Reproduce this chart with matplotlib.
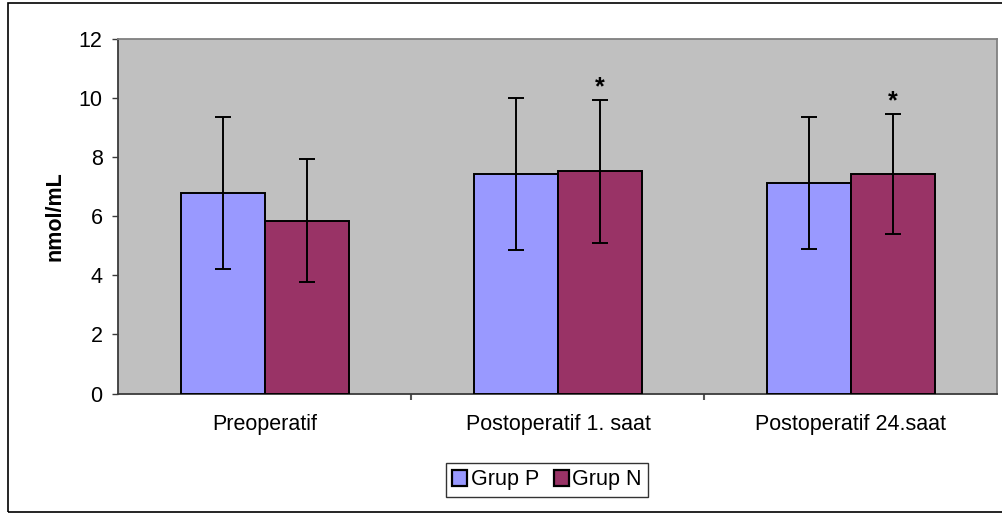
import matplotlib
matplotlib.use("Agg")
import matplotlib.pyplot as plt
import matplotlib.patches as mpatches
import numpy as np

plt.rcParams["font.family"] = ["Liberation Sans", "DejaVu Sans"]

# ── Data ──────────────────────────────────────────────────────────────────────
categories = ["Preoperatif", "Postoperatif 1. saat", "Postoperatif 24.saat"]
grup_p_mean = [6.78, 7.42, 7.12]
grup_p_sd = [2.57, 2.57, 2.24]
grup_n_mean = [5.85, 7.53, 7.44]
grup_n_sd = [2.08, 2.42, 2.03]
grup_n_sig = [False, True, True]   # asterisk above Grup N
series_names = ["Grup P", "Grup N"]
y_ticks = [0, 2, 4, 6, 8, 10, 12]

# ── Style ─────────────────────────────────────────────────────────────────────
_P_COLOR = "#9999FF"
_N_COLOR = "#993366"
_PLOT_BG = "#C0C0C0"
_AXIS = "#3a3a3a"
_FS = 15.5

W, H, DPI = 1003, 514, 100
fig = plt.figure(figsize=(W / DPI, H / DPI), dpi=DPI, facecolor="white")
ax = fig.add_axes([118.5 / W, 1 - 393.5 / H, (997.5 - 118.5) / W, (393.5 - 39) / H])
ax.set_facecolor(_PLOT_BG)

x = np.arange(len(categories))
bw = 1 / 3.5   # Excel gap width 150%

err_kw = dict(ecolor="black", elinewidth=1.4, capsize=5.5, capthick=1.4)
ax.bar(x - bw / 2, grup_p_mean, bw, yerr=grup_p_sd, color=_P_COLOR,
       edgecolor="black", linewidth=1.4, error_kw=err_kw, zorder=3,
       label=series_names[0])
ax.bar(x + bw / 2, grup_n_mean, bw, yerr=grup_n_sd, color=_N_COLOR,
       edgecolor="black", linewidth=1.4, error_kw=err_kw, zorder=3,
       label=series_names[1])

for xi, m, s, sig in zip(x, grup_n_mean, grup_n_sd, grup_n_sig):
    if sig:
        ax.annotate("*", (xi + bw / 2, m + s), xytext=(0, 9),
                    textcoords="offset points", ha="center", va="center",
                    fontsize=18, fontweight="bold", zorder=5)

ax.set_xlim(-0.5, len(categories) - 0.5)
ax.set_ylim(0, 12)
ax.set_yticks(y_ticks)
ax.set_yticklabels([str(t) for t in y_ticks], fontsize=_FS)
ax.tick_params(axis="y", direction="out", length=4.5, width=1, color=_AXIS, pad=7)

# category labels centred, ticks at category boundaries
ax.set_xticks(x)
ax.set_xticklabels(categories, fontsize=_FS)
ax.tick_params(axis="x", which="major", length=0, pad=15)
ax.set_xticks(np.arange(0.5, len(categories) - 0.5, 1), minor=True)
ax.tick_params(axis="x", which="minor", direction="out", length=4.5, width=1.5, color="#555555")

for side in ("left", "bottom"):
    ax.spines[side].set_color(_AXIS)
    ax.spines[side].set_linewidth(1.3)
for side in ("top", "right"):
    ax.spines[side].set_color("#808080")
    ax.spines[side].set_linewidth(1.3)

fig.text(55 / W, 1 - 216 / H, "nmol/mL", rotation=90, ha="center", va="center",
         fontsize=_FS, fontweight="bold")

handles = [mpatches.Patch(facecolor=_P_COLOR, edgecolor="black", linewidth=1.6),
           mpatches.Patch(facecolor=_N_COLOR, edgecolor="black", linewidth=1.6)]
leg = fig.legend(handles, series_names, loc="center",
                 bbox_to_anchor=(547 / W, 1 - 480 / H), ncol=2, fontsize=_FS,
                 frameon=True, fancybox=False, edgecolor="black",
                 handlelength=0.7, handleheight=0.7, handletextpad=0.15,
                 columnspacing=0.7, borderpad=0.3, borderaxespad=0)
leg.get_frame().set_linewidth(1.0)

# outer chart border
fig.patches.append(mpatches.Rectangle((8 / W, 1 - 511.5 / H), (1010 - 8) / W,
                                      (511.5 - 2.5) / H, transform=fig.transFigure,
                                      fill=False, edgecolor="black", linewidth=1.2))

fig.savefig("out.png", dpi=DPI, facecolor="white")
